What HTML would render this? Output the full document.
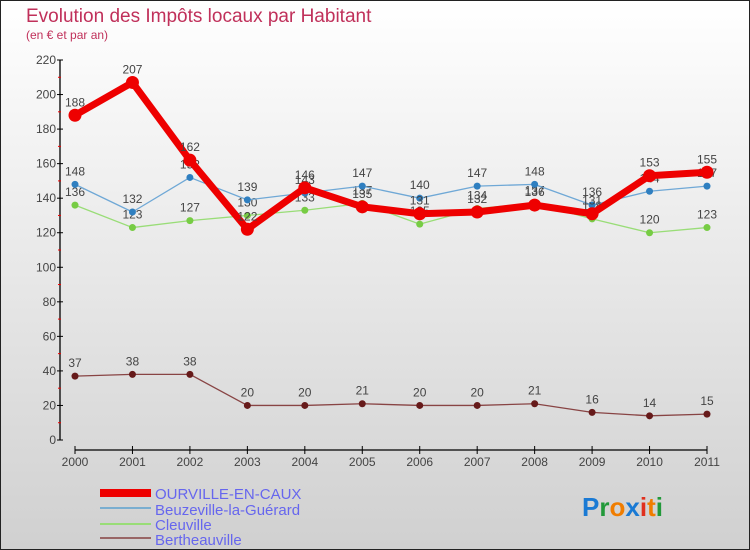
<!DOCTYPE html>
<html><head><meta charset="utf-8"><style>
body{margin:0;}
svg{display:block;font-family:"Liberation Sans",sans-serif;}
</style></head><body>
<svg id="chart" width="750" height="550" viewBox="0 0 750 550">
<defs><linearGradient id="bg" x1="0" y1="0" x2="0" y2="1"><stop offset="0" stop-color="#ffffff"/><stop offset="1" stop-color="#d0d0d0"/></linearGradient></defs>
<rect x="0.5" y="0.5" width="749" height="549" fill="url(#bg)" stroke="#222"/>
<text x="26" y="22" font-size="19" fill="#c0305a">Evolution des Impôts locaux par Habitant</text>
<text x="26" y="39" font-size="12" fill="#c0305a">(en € et par an)</text>
<g id="axes"></g>
<g id="series"></g>
<g>
<rect x="100" y="489" width="51" height="8" fill="#ee0000"/>
<text x="155" y="499" font-size="15" fill="#6666ee">OURVILLE-EN-CAUX</text>
<rect x="100" y="507" width="51" height="2" fill="#7aaed0"/>
<text x="155" y="515" font-size="15" fill="#6666ee">Beuzeville-la-Guérard</text>
<rect x="100" y="523" width="51" height="2" fill="#99dd77"/>
<text x="155" y="530" font-size="15" fill="#6666ee">Cleuville</text>
<rect x="100" y="537" width="51" height="2" fill="#996666"/>
<text x="155" y="545" font-size="15" fill="#6666ee">Bertheauville</text>
</g>
<g font-size="26" font-weight="bold">
<text x="582" y="516"><tspan fill="#1a7ad4">P</tspan><tspan fill="#22993a">r</tspan><tspan fill="#f07d00">o</tspan><tspan fill="#1a7ad4">x</tspan><tspan fill="#e0301e">i</tspan><tspan fill="#f07d00">t</tspan><tspan fill="#22993a">i</tspan></text>
</g>
</svg>
<script>
const years=["2000","2001","2002","2003","2004","2005","2006","2007","2008","2009","2010","2011"];
const yTicks=[0,20,40,60,80,100,120,140,160,180,200,220];
const ourville=[188,207,162,122,146,135,131,132,136,131,153,155];
const beuzeville=[148,132,152,139,143,147,140,147,148,136,144,147];
const cleuville=[136,123,127,130,133,137,125,134,137,128,120,123];
const bertheauville=[37,38,38,20,20,21,20,20,21,16,14,15];
const NS="http://www.w3.org/2000/svg";
const X0=75,X1=707,Y0=440,Y1=60,YMAX=220;
function xs(i){return X0+(X1-X0)*i/(years.length-1);}
function ys(v){return Y0-(Y0-Y1)*v/YMAX;}
function mk(tag,attrs,parent){const e=document.createElementNS(NS,tag);for(const k in attrs)e.setAttribute(k,attrs[k]);parent.appendChild(e);return e;}
const axes=document.getElementById('axes');
let yl=mk('line',{x1:60,y1:Y1,x2:60,y2:Y0,stroke:'#000','stroke-width':1.3},axes);


yTicks.forEach(v=>{
  mk('line',{x1:57,y1:ys(v),x2:63,y2:ys(v),stroke:'#000'},axes);
  if(v<YMAX)mk('line',{x1:58,y1:ys(v+10),x2:61,y2:ys(v+10),stroke:'#e00'},axes);
  const t=mk('text',{x:56,y:ys(v)+4,'font-size':12,fill:'#444','text-anchor':'end'},axes);
  t.textContent=v;
  
  
});
let xl=mk('line',{x1:X0,y1:450,x2:X1,y2:450,stroke:'#000','stroke-width':1.3},axes);


years.forEach((y,i)=>{
  mk('line',{x1:xs(i),y1:446,x2:xs(i),y2:454,stroke:'#000'},axes);
  const t=mk('text',{x:xs(i),y:466,'font-size':12,fill:'#444','text-anchor':'middle'},axes);
  t.textContent=y;
  
  
});
const sg=document.getElementById('series');
function draw(name,data,color,width,r,dot){
  const g=mk('g',{},sg);
  
  
  const p=mk('polyline',{points:data.map((v,i)=>xs(i)+','+ys(v)).join(' '),fill:'none',stroke:color,'stroke-width':width,'stroke-linejoin':'round'},g);
  
  
  data.forEach((v,i)=>{
    const c=mk('circle',{cx:xs(i),cy:ys(v),r:r,fill:dot},g);
    
    
    const t=mk('text',{x:xs(i),y:ys(v)-9,'font-size':12,fill:'#444','text-anchor':'middle'},g);
    t.textContent=v;
    
    
  });
}
draw('bertheauville',bertheauville,'#884444',1.3,3.5,'#661a1a');
draw('cleuville',cleuville,'#99dd77',1.3,3.5,'#77cc44');
draw('beuzeville',beuzeville,'#6fa8d6',1.3,3.5,'#2f7fc0');
draw('ourville',ourville,'#ee0000',7,6.5,'#ee0000');
</script>
</body></html>
